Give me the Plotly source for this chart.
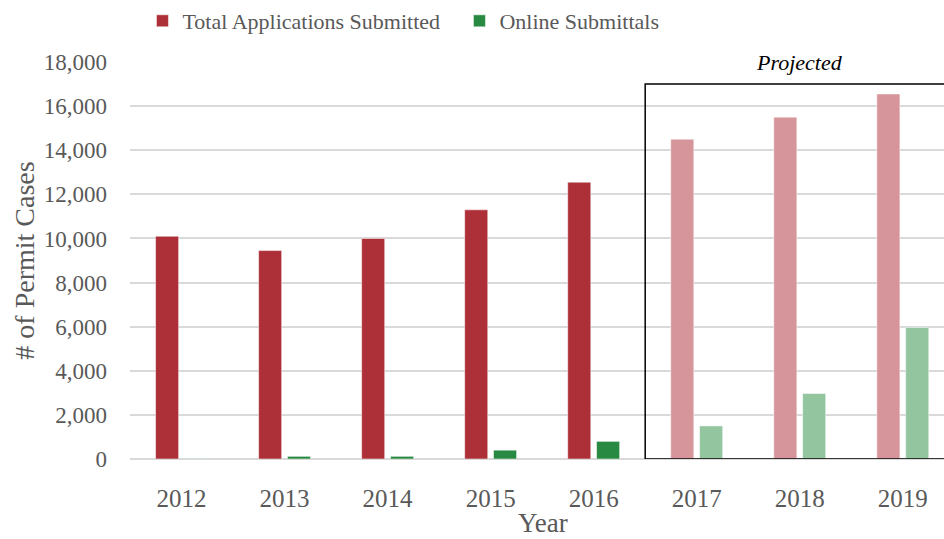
import plotly.graph_objects as go

# Permit application counts by year (2017-2019 are projections)
years = ["2012", "2013", "2014", "2015", "2016", "2017", "2018", "2019"]
total_applications = [10100, 9450, 10000, 11300, 12550, 14500, 15500, 16550]
online_submittals = [20, 120, 120, 400, 800, 1500, 2970, 5960]
projected = [False, False, False, False, False, True, True, True]

RED = "#AD3039"
RED_PALE = "#D6959A"
GREEN = "#288A42"
GREEN_PALE = "#93C59F"
TEXT = "#595959"
FONT = "Liberation Serif"

red_colors = [RED_PALE if p else RED for p in projected]
green_colors = [GREEN_PALE if p else GREEN for p in projected]

fig = go.Figure()
fig.add_trace(go.Bar(
    x=years, y=total_applications, name="Total Applications Submitted",
    marker=dict(color=red_colors, line=dict(color="rgba(255,255,255,0.5)", width=1)),
))
fig.add_trace(go.Bar(
    x=years, y=online_submittals, name="Online Submittals",
    marker=dict(color=green_colors, line=dict(color="rgba(255,255,255,0.5)", width=1)),
))

# Box around the projected years
fig.add_shape(type="rect", xref="x", yref="y", x0=4.5, x1=7.9, y0=0, y1=17000,
              line=dict(color="black", width=1.5), fillcolor="rgba(0,0,0,0)", layer="above")
fig.add_annotation(x=6, y=18000, xref="x", yref="y", text="<i>Projected</i>",
                   showarrow=False, font=dict(family=FONT, size=22, color="black"),
                   bgcolor="white", yanchor="middle")

# x-axis title placed below the year labels, resting on the bottom edge
fig.add_annotation(x=0.507, y=-0.2015, xref="paper", yref="paper", text="Year",
                   showarrow=False, font=dict(family=FONT, size=27, color=TEXT),
                   xanchor="center", yanchor="bottom", borderpad=0)

fig.update_layout(
    width=944, height=539,
    margin=dict(l=130, r=0, t=62, b=80),
    paper_bgcolor="white", plot_bgcolor="white",
    barmode="group", bargap=0.44, bargroupgap=0.2,
    font=dict(family=FONT, size=22, color=TEXT),
    legend=dict(orientation="h", x=0.0153, xanchor="left", y=1.0, yref="container",
                yanchor="top", font=dict(family=FONT, size=22, color=TEXT),
                itemwidth=30, entrywidth=272, entrywidthmode="pixels"),
    showlegend=True,
)
fig.update_xaxes(range=[-0.5, 7.4], showgrid=False, showline=False, ticks="",
                 ticklabelstandoff=22,
                 tickfont=dict(family=FONT, size=25, color=TEXT))
fig.update_yaxes(range=[0, 18000], dtick=2000, tickformat=",", showgrid=True,
                 gridcolor="#D9D9D9", gridwidth=1.5, zeroline=True, zerolinecolor="#D9D9D9",
                 zerolinewidth=1.5, showline=False, ticks="", ticklabelstandoff=22,
                 title=dict(text="# of Permit Cases", font=dict(family=FONT, size=28, color=TEXT), standoff=0),
                 tickfont=dict(family=FONT, size=23, color=TEXT))

fig.write_html("out.html")
